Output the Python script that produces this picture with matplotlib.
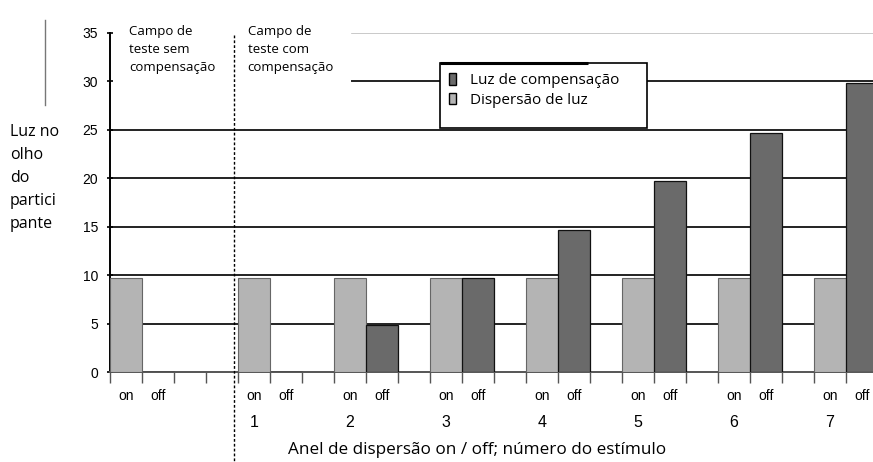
import numpy as np
import matplotlib.pyplot as plt
from matplotlib.patches import Patch, Rectangle
from matplotlib.lines import Line2D

# data
groups = ['', '1', '2', '3', '4', '5', '6', '7']
on_vals = [9.7, 9.7, 9.7, 9.7, 9.7, 9.7, 9.7, 9.7]          # Dispersão de luz (on)
off_vals = [0, 0, 4.9, 9.7, 14.7, 19.7, 24.7, 29.8]         # Luz de compensação (off)
on_slots = [0, 4, 7, 10, 13, 16, 19, 22]                    # position of each "on" slot
yticks = [0, 5, 10, 15, 20, 25, 30, 35]

light = '#b4b4b4'
dark = '#6a6a6a'
lab_font = ['Open Sans', 'DejaVu Sans']
num_font = ['Liberation Sans Narrow', 'Liberation Sans', 'DejaVu Sans']

fig = plt.figure(figsize=(8.73, 4.62), dpi=100)
ax = fig.add_axes([110/873, 1-372/462, 763/873, 339/462])

on_x = np.array(on_slots) + 0.5
off_x = on_x + 1
ax.bar(on_x, on_vals, width=1.0, color=light, edgecolor='#666666', linewidth=0.8, zorder=3)
ax.bar(off_x, off_vals, width=1.0, color=dark, edgecolor='#111111', linewidth=0.9, zorder=3)

# gridlines
for y in [5, 10, 15, 20, 25]:
    ax.axhline(y, color='#222222', lw=1.4, zorder=1)
ax.axhline(30, xmin=(352-110)/763, color='#222222', lw=1.4, zorder=1)
ax.axhline(35, xmin=(352-110)/763, color='#c0c0c0', lw=1.2, zorder=1)

ax.set_xlim(0, 763/32)
ax.set_ylim(0, 35)
for s in ['top', 'right']:
    ax.spines[s].set_visible(False)
ax.spines['left'].set_linewidth(1.4)
ax.spines['bottom'].set_linewidth(1.4)
ax.spines['bottom'].set_color('#555555')

ax.set_yticks(yticks)
ax.set_yticklabels([str(v) for v in yticks], fontfamily=num_font, fontsize=10)
ax.tick_params(axis='y', length=5, width=1.2, direction='inout', pad=6)

ax.set_xticks(np.arange(0, 24))
ax.set_xticklabels([])
ax.tick_params(axis='x', length=8, width=1.0, color='#555555')

# on / off labels and group numbers
xt = ax.get_xaxis_transform()
for i, s in enumerate(on_slots):
    ax.text(s + 0.5, -0.072, 'on', transform=xt, ha='center', va='center',
            fontfamily=num_font, fontsize=10)
    ax.text(s + 1.5, -0.072, 'off', transform=xt, ha='center', va='center',
            fontfamily=num_font, fontsize=10)
    if groups[i]:
        ax.text(s + 0.5, -0.148, groups[i], transform=xt, ha='center', va='center',
                fontfamily=num_font, fontsize=11.5)

ax.text(0.481, -0.231, 'Anel de dispersão on / off; número do estímulo', transform=ax.transAxes,
        ha='center', va='center', fontfamily=lab_font, fontsize=12.3)

fig.text(10/873, 1-178/462, 'Luz no\nolho\ndo\npartici\npante',
         ha='left', va='center', fontfamily=lab_font, fontsize=11.5, linespacing=1.58)

# divider between the two test fields
ax.plot([3.87, 3.87], [34.8, -9.4], color='black', lw=1.0, ls=(0, (2, 1.5)),
        clip_on=False, zorder=4)

ax.text(0.6, 35.8, 'Campo de\nteste sem\ncompensação', ha='left', va='top',
        fontfamily=lab_font, fontsize=9.5, linespacing=1.5)
ax.text(4.3, 35.8, 'Campo de\nteste com\ncompensação', ha='left', va='top',
        fontfamily=lab_font, fontsize=9.5, linespacing=1.5)

# decorative line at the upper left
fig.add_artist(Line2D([45/873, 45/873], [1-20/462, 1-105/462], color='#777777', lw=1.0))

# legend box drawn by hand (its padding is uneven in the reference)
bx0, bx1 = (440-110)/763, (647-110)/763
by0, by1 = (372-128)/339, (372-63)/339
ax.add_patch(Rectangle((bx0, by0), bx1-bx0, by1-by0, transform=ax.transAxes,
                       facecolor='white', edgecolor='black', lw=1.2, zorder=5))
ax.plot([bx0, (588-110)/763], [by1, by1], transform=ax.transAxes, color='black',
        lw=2.2, zorder=6, solid_capstyle='butt')

handles = [Patch(facecolor=dark, edgecolor='black', label='Luz de compensação'),
           Patch(facecolor=light, edgecolor='black', label='Dispersão de luz')]
leg = ax.legend(handles=handles, loc='upper left',
                bbox_to_anchor=((449-110)/763, (372-73)/339),
                frameon=False, prop={'family': lab_font, 'size': 11},
                handlelength=0.45, handleheight=0.8, handletextpad=0.95,
                borderpad=0, labelspacing=0.3, borderaxespad=0)
leg.set_zorder(7)

fig.savefig('out.png', dpi=100)
